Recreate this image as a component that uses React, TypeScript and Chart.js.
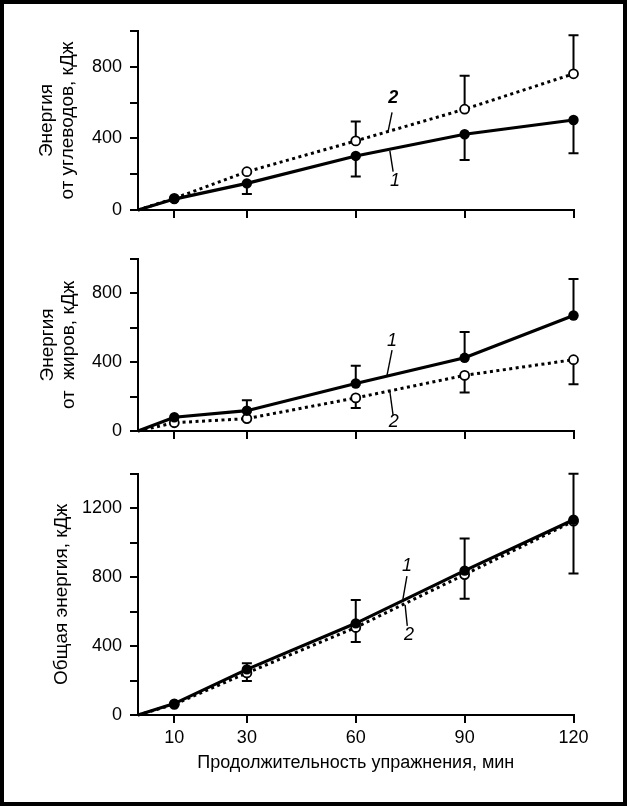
import React, { useEffect, useRef } from 'react';
import { Chart, registerables } from 'chart.js';

Chart.register(...registerables);

// ---------- data ----------
const minutes = [0, 10, 30, 60, 90, 120];
const xTickValues = [10, 30, 60, 90, 120];

// Panel 1: energy from carbohydrates, kJ
const carbSeries1 = [0, 61, 149, 302, 423, 503];
const carbSeries1Err = [0, 0, 59, 115, 143, 186];
const carbSeries2 = [0, 65, 214, 386, 563, 761];
const carbSeries2Err = [0, 0, 0, 108, 187, 215];
const carbYLabels = [0, 400, 800];

// Panel 2: energy from fats, kJ
const fatSeries1 = [0, 80, 118, 276, 425, 671];
const fatSeries1Err = [0, 0, 60, 103, 150, 211];
const fatSeries2 = [0, 48, 72, 192, 323, 414];
const fatSeries2Err = [0, 0, 0, 59, 99, 143];
const fatYLabels = [0, 400, 800];

// Panel 3: total energy, kJ
const totalSeries1 = [0, 66, 265, 532, 838, 1133];
const totalSeries1Err = [0, 0, 35, 136, 187, 267];
const totalSeries2 = [0, 62, 244, 508, 815, 1125];
const totalSeries2Err = [0, 0, 47, 85, 140, 303];
const totalYLabels = [0, 400, 800, 1200];

const FONT = '"Liberation Sans", Arial, sans-serif';

// curve labels "1"/"2" with leader lines, in data coordinates
const carbNotes = [
  { text: '2', x: 70.3, y: 626, from: [70.0, 545], to: [68.9, 438], bold: true },
  { text: '1', x: 70.8, y: 160, from: [70.3, 214], to: [69.4, 330], bold: false },
];
const fatNotes = [
  { text: '1', x: 70.0, y: 520, from: [70.0, 470], to: [68.6, 322], bold: false },
  { text: '2', x: 70.5, y: 50, from: [70.3, 90], to: [69.4, 229], bold: false },
];
const totalNotes = [
  { text: '1', x: 74.1, y: 862, from: [74.1, 806], to: [73.0, 672], bold: false },
  { text: '2', x: 74.7, y: 462, from: [74.2, 517], to: [73.6, 639], bold: false },
];

type Panel = {
  s1: number[]; e1: number[]; d1: number;
  s2: number[]; e2: number[]; d2: number;
  yMax: number; yLabels: number[];
  yTitle: string[] | string; yTitlePad: number;
  notes: typeof carbNotes;
  canvasH: number; padTop: number; xHeight: number;
  showX: boolean;
};

const errorBarPlugin = {
  id: 'errorBars',
  beforeDatasetsDraw(chart: any) {
    const { ctx, scales } = chart;
    const x = scales.x, y = scales.y;
    ctx.save();
    ctx.strokeStyle = '#000';
    ctx.lineWidth = 2;
    chart.data.datasets.forEach((ds: any) => {
      ds.data.forEach((p: any, i: number) => {
        const e = ds.errors[i];
        if (!e) return;
        const px = x.getPixelForValue(p.x);
        const y0 = y.getPixelForValue(p.y);
        const y1 = y.getPixelForValue(p.y + ds.errDir * e);
        ctx.beginPath();
        ctx.moveTo(px, y0);
        ctx.lineTo(px, y1);
        ctx.moveTo(px - 5, y1);
        ctx.lineTo(px + 5, y1);
        ctx.stroke();
      });
    });
    ctx.restore();
  },
};

const notesPlugin = (notes: typeof carbNotes) => ({
  id: 'curveNotes',
  afterDatasetsDraw(chart: any) {
    const { ctx, scales } = chart;
    const x = scales.x, y = scales.y;
    ctx.save();
    ctx.strokeStyle = '#000';
    ctx.fillStyle = '#000';
    ctx.lineWidth = 1.4;
    ctx.textAlign = 'center';
    ctx.textBaseline = 'middle';
    notes.forEach((n) => {
      ctx.beginPath();
      ctx.moveTo(x.getPixelForValue(n.from[0]), y.getPixelForValue(n.from[1]));
      ctx.lineTo(x.getPixelForValue(n.to[0]), y.getPixelForValue(n.to[1]));
      ctx.stroke();
      ctx.font = `italic ${n.bold ? 'bold ' : ''}18px ${FONT}`;
      ctx.fillText(n.text, x.getPixelForValue(n.x), y.getPixelForValue(n.y));
    });
    ctx.restore();
  },
});

function makeChart(canvas: HTMLCanvasElement, p: Panel) {
  const pts = (arr: number[]) => minutes.map((m, i) => ({ x: m, y: arr[i] }));
  return new Chart(canvas, {
    type: 'line',
    data: {
      datasets: [
        {
          label: '1',
          data: pts(p.s1),
          borderColor: '#000',
          backgroundColor: '#000',
          borderWidth: 3.2,
          pointRadius: (c: any) => (c.dataIndex === 0 ? 0 : 5.2),
          pointBorderWidth: 0,
          pointBackgroundColor: '#000',
          clip: false,
          errors: p.e1,
          errDir: p.d1,
        } as any,
        {
          label: '2',
          data: pts(p.s2),
          borderColor: '#000',
          backgroundColor: '#fff',
          borderWidth: 3,
          borderDash: [3, 3.5],
          pointRadius: (c: any) => (c.dataIndex === 0 ? 0 : 4.5),
          pointBorderWidth: 1.8,
          pointBorderColor: '#000',
          pointBackgroundColor: '#fff',
          clip: false,
          errors: p.e2,
          errDir: p.d2,
        } as any,
      ],
    },
    options: {
      responsive: false,
      maintainAspectRatio: false,
      animation: false,
      events: [],
      layout: { padding: { top: p.padTop, right: 53.5, left: 0, bottom: 0 } },
      plugins: { legend: { display: false }, tooltip: { enabled: false } },
      scales: {
        x: {
          type: 'linear',
          min: 0,
          max: 120,
          afterBuildTicks: (axis: any) => {
            axis.ticks = xTickValues.map((v) => ({ value: v }));
          },
          afterFit: (axis: any) => {
            axis.height = p.xHeight;
          },
          grid: { display: true, drawOnChartArea: false, drawTicks: true, tickLength: 8, color: '#000', lineWidth: 2 },
          border: { display: true, color: '#000', width: 2 },
          ticks: {
            display: p.showX,
            color: '#000',
            padding: 4,
            maxRotation: 0,
            autoSkip: false,
            font: { family: FONT, size: 18 },
            callback: (v: any) => String(v),
          },
          title: {
            display: p.showX,
            text: 'Продолжительность упражнения, мин',
            color: '#000',
            font: { family: FONT, size: 18 },
            padding: { top: 0, bottom: 32 },
          },
        },
        y: {
          type: 'linear',
          min: 0,
          max: p.yMax,
          afterFit: (axis: any) => {
            axis.width = 138;
          },
          grid: { display: true, drawOnChartArea: false, drawTicks: true, tickLength: 8, color: '#000', lineWidth: 2 },
          border: { display: true, color: '#000', width: 2 },
          ticks: {
            stepSize: 200,
            color: '#000',
            padding: 8,
            autoSkip: false,
            font: { family: FONT, size: 18 },
            callback: (v: any) => (p.yLabels.includes(Number(v)) ? String(v) : ''),
          },
          title: {
            display: true,
            text: p.yTitle,
            color: '#000',
            font: { family: FONT, size: 19, lineHeight: 1.1 },
            padding: { top: p.yTitlePad, bottom: 0 },
          },
        },
      },
    } as any,
    plugins: [errorBarPlugin, notesPlugin(p.notes)],
  });
}

const panels: Panel[] = [
  {
    s1: carbSeries1, e1: carbSeries1Err, d1: -1,
    s2: carbSeries2, e2: carbSeries2Err, d2: 1,
    yMax: 1000, yLabels: carbYLabels,
    yTitle: ['Энергия', 'от углеводов, кДж'], yTitlePad: 36.3,
    notes: carbNotes,
    canvasH: 240, padTop: 31, xHeight: 30, showX: false,
  },
  {
    s1: fatSeries1, e1: fatSeries1Err, d1: 1,
    s2: fatSeries2, e2: fatSeries2Err, d2: -1,
    yMax: 1000, yLabels: fatYLabels,
    yTitle: ['Энергия', 'от  жиров, кДж'], yTitlePad: 37.5,
    notes: fatNotes,
    canvasH: 215, padTop: 13, xHeight: 24, showX: false,
  },
  {
    s1: totalSeries1, e1: totalSeries1Err, d1: 1,
    s2: totalSeries2, e2: totalSeries2Err, d2: -1,
    yMax: 1400, yLabels: totalYLabels,
    yTitle: 'Общая энергия, кДж', yTitlePad: 51.5,
    notes: totalNotes,
    canvasH: 351, padTop: 12, xHeight: 91, showX: true,
  },
];

const tops = [0, 240, 455];

export default function App() {
  const r0 = useRef<HTMLCanvasElement>(null);
  const r1 = useRef<HTMLCanvasElement>(null);
  const r2 = useRef<HTMLCanvasElement>(null);

  useEffect(() => {
    document.body.style.margin = '0';
    const refs = [r0, r1, r2];
    const charts = refs.map((r, i) => makeChart(r.current as HTMLCanvasElement, panels[i]));
    return () => charts.forEach((c) => c.destroy());
  }, []);

  const refs = [r0, r1, r2];
  return (
    <div style={{ position: 'relative', width: 627, height: 806, background: '#fff', overflow: 'hidden' }}>
      {panels.map((p, i) => (
        <canvas
          key={i}
          ref={refs[i]}
          width={627}
          height={p.canvasH}
          style={{ position: 'absolute', left: 0, top: tops[i], width: 627, height: p.canvasH }}
        />
      ))}
      <div
        style={{
          position: 'absolute',
          left: 0,
          top: 0,
          width: 627,
          height: 806,
          boxSizing: 'border-box',
          border: '4px solid #000',
          pointerEvents: 'none',
        }}
      />
    </div>
  );
}
